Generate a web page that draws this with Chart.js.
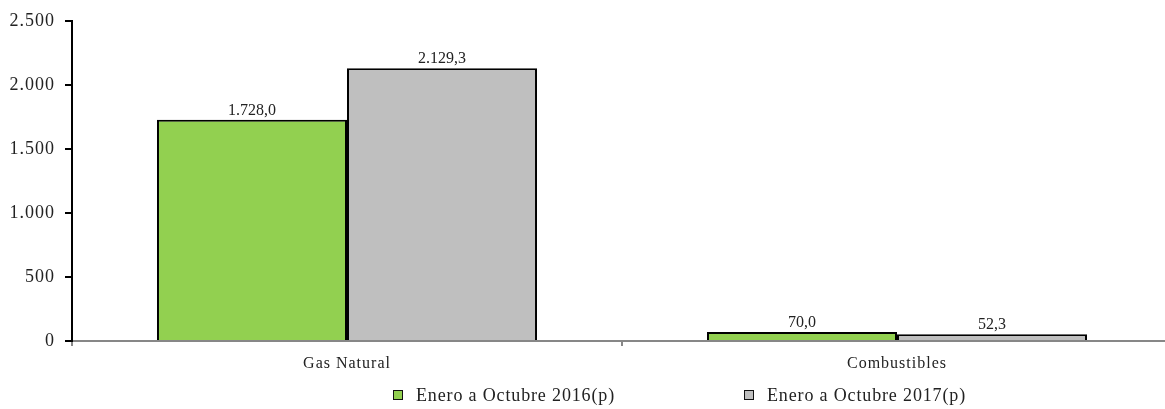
<!DOCTYPE html>
<html>
<head>
<meta charset="utf-8">
<script src="https://cdn.jsdelivr.net/npm/chart.js@4/dist/chart.umd.min.js"></script>
<style>
  html, body { margin: 0; padding: 0; background: #fff; }
  #wrap { position: relative; width: 1165px; height: 409px; }
  #leyenda { position: absolute; left: 0; top: 384px; width: 1165px; height: 22px;
             font-family: "Liberation Serif", serif; font-size: 18px; letter-spacing: 0.85px; color: #222; }
  .item { position: absolute; top: 0; height: 22px; display: flex; align-items: center; white-space: nowrap; }
  .caja { width: 8px; height: 8px; border: 1.6px solid #111; margin-right: 13px; }
</style>
</head>
<body>
<div id="wrap">
  <canvas id="grafico" width="1165" height="409"></canvas>
  <div id="leyenda"></div>
</div>
<script>
var categorias = ['Gas Natural', 'Combustibles'];
var serie2016 = [1728.0, 70.0];
var serie2017 = [2129.3, 52.3];
var nombres = ['Enero a Octubre 2016(p)', 'Enero a Octubre 2017(p)'];
var colores = ['#92d050', '#bfbfbf'];

function formato(valor, decimales) {
    var partes = valor.toFixed(decimales).split('.');
    partes[0] = partes[0].replace(/\B(?=(\d{3})+(?!\d))/g, '.');
    return partes.join(',');
}

// el texto del original va algo espaciado
var espaciado = {
    id: 'espaciado',
    beforeUpdate: function (chart) { chart.ctx.letterSpacing = '1px'; },
    beforeDraw: function (chart) { chart.ctx.letterSpacing = '1px'; }
};

// en el original el eje de categorias sigue un poco mas alla del borde derecho
var ejeLargo = {
    id: 'ejeLargo',
    afterLayout: function (chart) {
        var x = chart.scales.x;
        x.right = x.left + 1100;
        x.width = 1100;
        x.configure();
    }
};

// etiquetas encima de cada barra
var etiquetas = {
    id: 'etiquetas',
    afterDatasetsDraw: function (chart) {
        var ctx = chart.ctx;
        ctx.save();
        ctx.letterSpacing = '0px';
        ctx.font = '16px "Liberation Serif", serif';
        ctx.fillStyle = '#222';
        ctx.textAlign = 'center';
        ctx.textBaseline = 'alphabetic';
        chart.data.datasets.forEach(function (ds, i) {
            chart.getDatasetMeta(i).data.forEach(function (barra, j) {
                ctx.fillText(formato(ds.data[j], 1), barra.x, barra.y - 5);
            });
        });
        ctx.restore();
    }
};

var ctx = document.getElementById('grafico').getContext('2d');
var miGrafico = new Chart(ctx, {
    type: 'bar',
    data: {
        labels: categorias,
        datasets: [
            { label: nombres[0], data: serie2016, backgroundColor: colores[0], borderColor: '#000', borderWidth: 2 },
            { label: nombres[1], data: serie2017, backgroundColor: colores[1], borderColor: '#000', borderWidth: 2 }
        ]
    },
    options: {
        responsive: false,
        animation: false,
        layout: { padding: { top: 17, right: 0, bottom: 38, left: 0 } },
        datasets: { bar: { categoryPercentage: 0.691, barPercentage: 1.0 } },
        plugins: {
            legend: { display: false },
            tooltip: { enabled: false }
        },
        scales: {
            x: {
                grid: { drawOnChartArea: false, offset: true, tickLength: 5, color: '#878787', lineWidth: 2 },
                border: { color: '#878787', width: 2 },
                ticks: { color: '#222', padding: 8, font: { family: '"Liberation Serif", serif', size: 16 } },
                afterFit: function (scale) { scale.height = 30; }
            },
            y: {
                min: 0,
                max: 2500,
                ticks: {
                    stepSize: 500,
                    color: '#222',
                    padding: 10,
                    font: { family: '"Liberation Serif", serif', size: 18 },
                    callback: function (v) { return formato(v, 0); }
                },
                grid: { drawOnChartArea: false, tickLength: 7, color: '#000', lineWidth: 2 },
                border: { color: '#000', width: 2 },
                afterFit: function (scale) { scale.width = 72; }
            }
        }
    },
    plugins: [espaciado, ejeLargo, etiquetas]
});

// leyenda en HTML para separar los elementos como en el original
var posiciones = [393, 744];
var leyenda = document.getElementById('leyenda');
miGrafico.data.datasets.forEach(function (ds, i) {
    var item = document.createElement('div');
    item.className = 'item';
    item.style.left = posiciones[i] + 'px';
    item.innerHTML = '<span class="caja" style="background:' + ds.backgroundColor + '"></span>' + ds.label;
    leyenda.appendChild(item);
});
</script>
</body>
</html>
